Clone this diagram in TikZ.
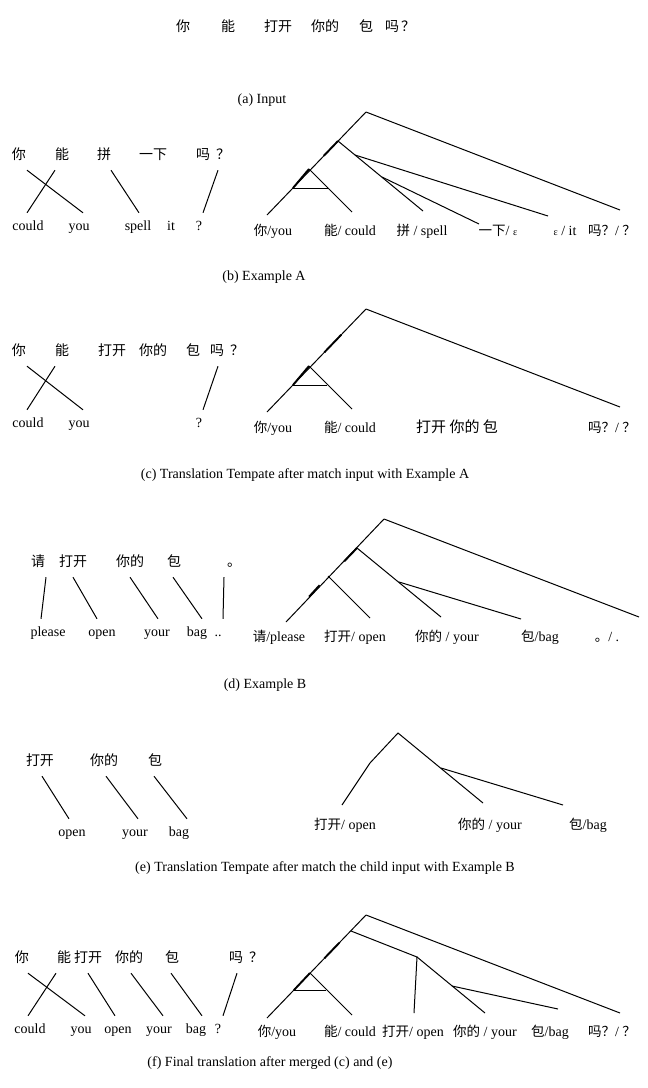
\documentclass[tikz,border=0pt]{standalone}
\usepackage{fontspec}
\setmainfont{Liberation Serif}
\newfontfamily\cjk{Noto Sans CJK SC}
\usetikzlibrary{calc}
\newcommand{\zh}[1]{{\cjk\fontsize{13.5}{15}\selectfont #1}}
\newcommand{\eps}{{\fontsize{10}{12}\selectfont ε}}
\tikzstyle{zh} = [font=\cjk\fontsize{14}{16}\selectfont, inner xsep=0pt, inner ysep=7.5pt,
    text height=10pt, text depth=3pt]
\tikzstyle{en} = [font=\fontsize{14}{16}\selectfont, inner xsep=0pt, inner ysep=7.5pt,
    text height=10pt, text depth=3pt]
\tikzstyle{leaf} = [font=\fontsize{14}{16}\selectfont, inner sep=0pt, text height=10pt, text depth=3pt]
\tikzstyle{capt} = [font=\fontsize{14}{16}\selectfont, inner sep=0pt]
\tikzstyle{link} = [line width=1pt]
\tikzstyle{thk} = [line width=1.9pt]

\begin{document}
\begin{tikzpicture}[x=1pt, y=-1pt]
\useasboundingbox (0,0) rectangle (648,1088);

% (a) input
\node (az1) [zh] at (183,28) {你};
\node (az2) [zh] at (228,28) {能};
\node (az3) [zh] at (278,28) {打开};
\node (az4) [zh] at (325,28) {你的};
\node (az5) [zh] at (366,28) {包};
\node (az6) [zh] at (392,28) {吗};
\node (az7) [zh] at (408,28) {？};
\node (capa) [capt] at (262,100) {(a) Input};

% (b) example A
\node (bz1) [zh] at (19,156) {你};
\node (bz2) [zh] at (62,156) {能};
\node (bz3) [zh] at (104,156) {拼};
\node (bz4) [zh] at (153,156) {一下};
\node (bz5) [zh] at (203,156) {吗};
\node (bz6) [zh] at (223,156) {？};
\node (be1) [en] at (28,227) {could};
\node (be2) [en] at (79,227) {you};
\node (be3) [en] at (138,227) {spell};
\node (be4) [en] at (171,227) {it};
\node (be5) [en] at (199,227) {?};
\draw[link] ([xshift=8]bz1.south) -- ([xshift=4]be2.north);
\draw[link] ([xshift=-7]bz2.south) -- ([xshift=-1]be1.north);
\draw[link] ([xshift=7]bz3.south) -- ([xshift=1]be3.north);
\draw[link] ([xshift=-5]bz6.south) -- ([xshift=4]be5.north);

\coordinate (broot) at (366,112);
\coordinate (bn1) at (338,141);
\coordinate (bn2) at (309,169);
\coordinate (bbl) at (293,188);
\coordinate (bbr) at (328,188);
\coordinate (bj1) at (355,155);
\coordinate (bj2) at (382,177);
\coordinate (bl1) at (267,215);
\coordinate (bl2) at (352,212);
\coordinate (bl3) at (423,211);
\coordinate (bl4) at (479,224);
\coordinate (bl5) at (548,216);
\coordinate (bl6) at (620,210);
\draw[link] (broot) -- (bl1);
\draw[link] (broot) -- (bl6);
\draw[link] (bn1) -- (bl3);
\draw[link] (bj1) -- (bl5);
\draw[link] (bj2) -- (bl4);
\draw[link] (bn2) -- (bl2);
\draw[link] (bbl) -- (bbr);
\draw[thk] (bn1) -- ($(bn1)!0.2!(bl1)$);
\draw[thk] (bn2) -- (bbl);
\node (bt1) [leaf] at (273,232) {\zh{你}/you};
\node (bt2) [leaf] at (350,232) {\zh{能}/ could};
\node (bt3) [leaf] at (422,232) {\zh{拼} / spell};
\node (bt4) [leaf] at (498,232) {\zh{一下}/ \eps};
\node (bt5) [leaf] at (565,232) {\eps{} / it};
\node (bt6) [leaf] at (612,232) {\zh{吗？}/ \zh{？}};
\node (capb) [capt] at (264,277) {(b) Example A};

% (c) template from example A
\node (cz1) [zh] at (19,352) {你};
\node (cz2) [zh] at (62,352) {能};
\node (cz3) [zh] at (112,352) {打开};
\node (cz4) [zh] at (153,352) {你的};
\node (cz5) [zh] at (193,352) {包};
\node (cz6) [zh] at (217,352) {吗};
\node (cz7) [zh] at (237,352) {？};
\node (ce1) [en] at (28,424) {could};
\node (ce2) [en] at (79,424) {you};
\node (ce3) [en] at (199,424) {?};
\draw[link] ([xshift=8]cz1.south) -- ([xshift=4]ce2.north);
\draw[link] ([xshift=-7]cz2.south) -- ([xshift=-1]ce1.north);
\draw[link] ([xshift=1]cz6.south) -- ([xshift=4]ce3.north);

\coordinate (croot) at (366,309);
\coordinate (cn2) at (309,366);
\coordinate (cbl) at (293,385);
\coordinate (cbr) at (327,385);
\coordinate (cl1) at (267,412);
\coordinate (cl2) at (352,409);
\coordinate (cl6) at (620,407);
\draw[link] (croot) -- (cl1);
\draw[link] (croot) -- (cl6);
\draw[link] (cn2) -- (cl2);
\draw[link] (cbl) -- (cbr);
\draw[thk] ($(croot)!0.25!(cl1)$) -- ($(croot)!0.42!(cl1)$);
\draw[thk] (cn2) -- (cbl);
\node (ct1) [leaf] at (273,429) {\zh{你}/you};
\node (ct2) [leaf] at (350,429) {\zh{能}/ could};
\node (ct3) [leaf, font=\cjk\fontsize{15}{17}\selectfont] at (457,429) {打开\ 你的\ 包};
\node (ct4) [leaf] at (612,429) {\zh{吗？}/ \zh{？}};
\node (capc) [capt] at (305,475) {(c) Translation Tempate after match input with Example A};

% (d) example B
\node (dz1) [zh] at (38,563) {请};
\node (dz2) [zh] at (73,563) {打开};
\node (dz3) [zh] at (130,563) {你的};
\node (dz4) [zh] at (174,563) {包};
\node (dz5) [zh] at (234,563) {。};
\node (de1) [en] at (48,633) {please};
\node (de2) [en] at (102,633) {open};
\node (de3) [en] at (157,633) {your};
\node (de4) [en] at (197,633) {bag};
\node (de5) [en] at (218,633) {..};
\draw[link] ([xshift=8]dz1.south) -- ([xshift=-7]de1.north);
\draw[link] (dz2.south) -- ([xshift=-5]de2.north);
\draw[link] (dz3.south) -- ([xshift=1]de3.north);
\draw[link] ([xshift=-1]dz4.south) -- ([xshift=5]de4.north);
\draw[link] ([xshift=-10]dz5.south) -- ([xshift=5]de5.north);

\coordinate (droot) at (384,519);
\coordinate (dn1) at (357,548);
\coordinate (dn2) at (328,576);
\coordinate (dj) at (399,582);
\coordinate (dl1) at (286,622);
\coordinate (dl2) at (370,618);
\coordinate (dl3) at (441,617);
\coordinate (dl4) at (521,619);
\coordinate (dl5) at (639,617);
\draw[link] (droot) -- (dl1);
\draw[link] (droot) -- (dl5);
\draw[link] (dn1) -- (dl3);
\draw[link] (dn2) -- (dl2);
\draw[link] (dj) -- (dl4);
\draw[thk] (dn1) -- ($(dn1)!0.18!(dl1)$);
\draw[thk] ($(dn2)!0.2!(dl1)$) -- ($(dn2)!0.45!(dl1)$);
\node (dt1) [leaf] at (279,638) {\zh{请}/please};
\node (dt2) [leaf] at (355,638) {\zh{打开}/ open};
\node (dt3) [leaf] at (447,638) {\zh{你的}\ / your};
\node (dt4) [leaf] at (540,638) {\zh{包}/bag};
\node (dt5) [leaf] at (607,638) {\zh{。}/ .};
\node (capd) [capt] at (265,685) {(d) Example B};

% (e) template from example B
\node (ez1) [zh] at (40,762) {打开};
\node (ez2) [zh] at (104,762) {你的};
\node (ez3) [zh] at (155,762) {包};
\node (ee1) [en] at (72,833) {open};
\node (ee2) [en] at (135,833) {your};
\node (ee3) [en] at (179,833) {bag};
\draw[link] ([xshift=2]ez1.south) -- ([xshift=-3]ee1.north);
\draw[link] ([xshift=2]ez2.south) -- ([xshift=3]ee2.north);
\draw[link] ([xshift=-1]ez3.south) -- ([xshift=8]ee3.north);

\coordinate (eroot) at (398,733);
\coordinate (ek) at (370,763);
\coordinate (ej) at (441,768);
\coordinate (el1) at (342,805);
\coordinate (el2) at (483,803);
\coordinate (el3) at (563,805);
\draw[link] (el1) -- (ek) -- (eroot) -- (el2);
\draw[link] (ej) -- (el3);
\node (et1) [leaf] at (345,826) {\zh{打开}/ open};
\node (et2) [leaf] at (490,826) {\zh{你的}\ / your};
\node (et3) [leaf] at (588,826) {\zh{包}/bag};
\node (cape) [capt] at (325,868) {(e) Translation Tempate after match the child input with Example B};

% (f) merged result
\node (fz1) [zh] at (22,959) {你};
\node (fz2) [zh] at (64,959) {能};
\node (fz3) [zh] at (88,959) {打开};
\node (fz4) [zh] at (129,959) {你的};
\node (fz5) [zh] at (172,959) {包};
\node (fz6) [zh] at (236,959) {吗};
\node (fz7) [zh] at (256,959) {？};
\node (fe1) [en] at (30,1030) {could};
\node (fe2) [en] at (81,1030) {you};
\node (fe3) [en] at (118,1030) {open};
\node (fe4) [en] at (159,1030) {your};
\node (fe5) [en] at (196,1030) {bag};
\node (fe6) [en] at (218,1030) {?};
\draw[link] ([xshift=6]fz1.south) -- ([xshift=4]fe2.north);
\draw[link] ([xshift=-8]fz2.south) -- ([xshift=-2]fe1.north);
\draw[link] (fz3.south) -- ([xshift=-3]fe3.north);
\draw[link] ([xshift=2]fz4.south) -- ([xshift=4]fe4.north);
\draw[link] ([xshift=-1]fz5.south) -- ([xshift=6]fe5.north);
\draw[link] ([xshift=1]fz6.south) -- ([xshift=5]fe6.north);

\coordinate (froot) at (366,915);
\coordinate (fn1) at (351,931);
\coordinate (fp) at (417,957);
\coordinate (fj) at (452,986);
\coordinate (fn2) at (310,973);
\coordinate (fbl) at (294,990);
\coordinate (fbr) at (326,990);
\coordinate (fl1) at (267,1018);
\coordinate (fl2) at (352,1015);
\coordinate (fl3) at (414,1013);
\coordinate (fl4) at (485,1013);
\coordinate (fl5) at (558,1009);
\coordinate (fl6) at (620,1013);
\draw[link] (froot) -- (fl1);
\draw[link] (froot) -- (fl6);
\draw[link] (fn1) -- (fp) -- (fl3);
\draw[link] (fp) -- (fl4);
\draw[link] (fj) -- (fl5);
\draw[link] (fn2) -- (fl2);
\draw[link] (fbl) -- (fbr);
\draw[thk] ($(froot)!0.27!(fl1)$) -- ($(froot)!0.42!(fl1)$);
\draw[thk] (fn2) -- (fbl);
\node (ft1) [leaf] at (277,1033) {\zh{你}/you};
\node (ft2) [leaf] at (350,1033) {\zh{能}/ could};
\node (ft3) [leaf] at (413,1033) {\zh{打开}/ open};
\node (ft4) [leaf] at (485,1033) {\zh{你的}\ / your};
\node (ft5) [leaf] at (550,1033) {\zh{包}/bag};
\node (ft6) [leaf] at (612,1033) {\zh{吗？}/ \zh{？}};
\node (capf) [capt] at (270,1063) {(f) Final translation after merged (c) and (e)};
\end{tikzpicture}
\end{document}
